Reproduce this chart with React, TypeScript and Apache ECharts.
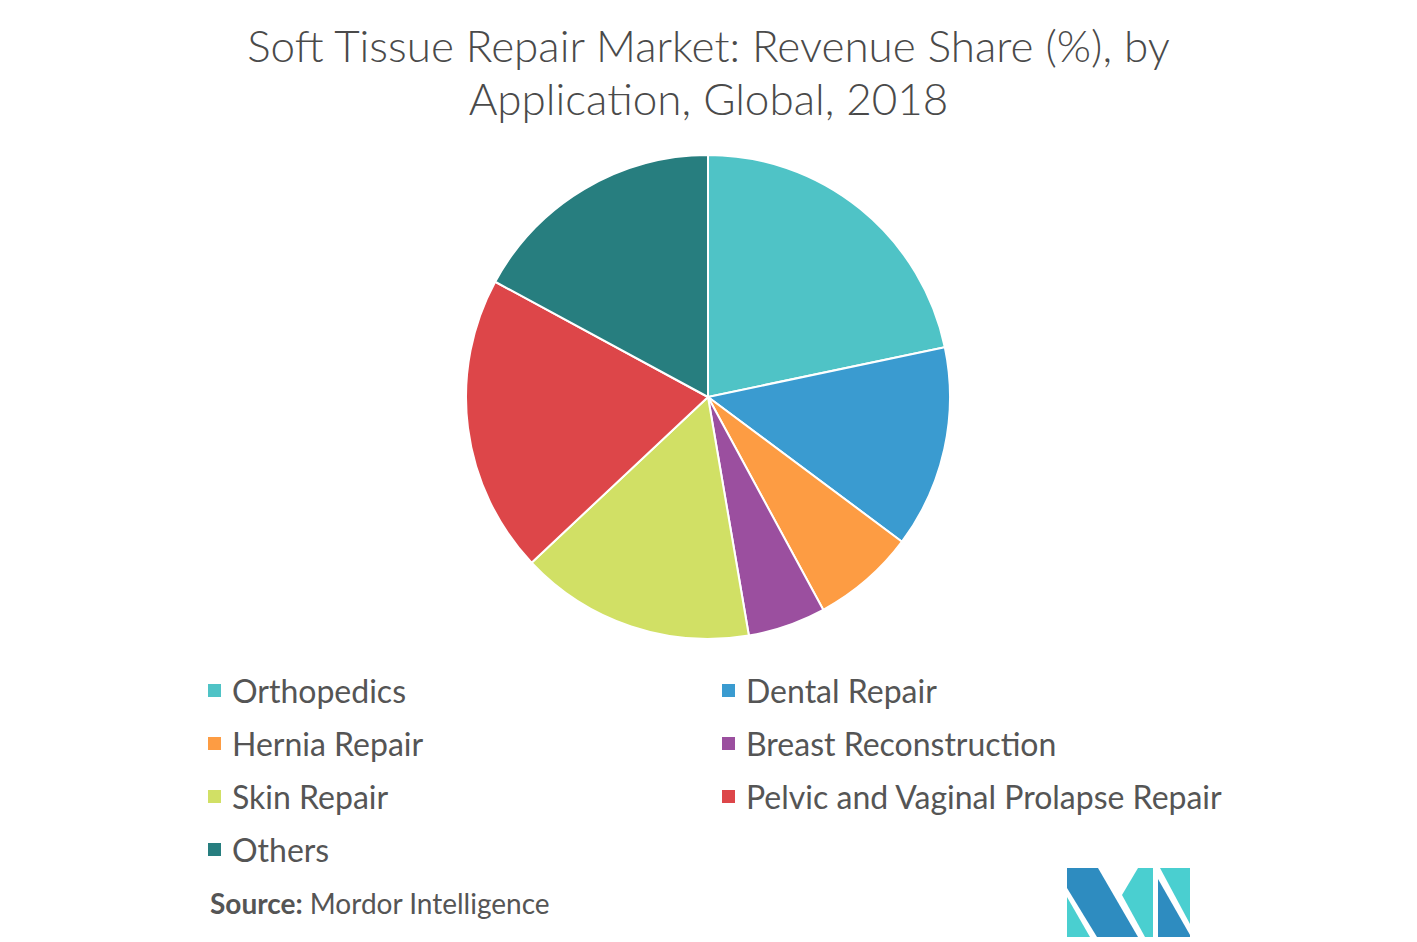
import React, { useEffect, useRef } from "react";
import * as echarts from "echarts";

const categories = [
  "Orthopedics",
  "Dental Repair",
  "Hernia Repair",
  "Breast Reconstruction",
  "Skin Repair",
  "Pelvic and Vaginal Prolapse Repair",
  "Others",
];
const shares = [21.7, 13.5, 6.9, 5.2, 15.7, 19.9, 17.1];
const colors = ["#4fc3c6", "#3a9bd0", "#fd9c43", "#9b4f9f", "#d1e065", "#dd4649", "#277e7f"];
const leftLegend = ["Orthopedics", "Hernia Repair", "Skin Repair", "Others"];
const rightLegend = ["Dental Repair", "Breast Reconstruction", "Pelvic and Vaginal Prolapse Repair"];
const titleText = "Soft Tissue Repair Market: Revenue Share (%), by\nApplication, Global, 2018";

const FONT = "Lato, 'Open Sans', sans-serif";

export default function App() {
  const ref = useRef<HTMLDivElement>(null);
  useEffect(() => {
    if (!ref.current) return;
    const chart = echarts.init(ref.current, null, { renderer: "svg" });
    const legendBase = {
      orient: "vertical",
      icon: "rect",
      itemWidth: 15,
      itemHeight: 15,
      itemGap: 20,
      selectedMode: false,
      textStyle: { fontFamily: FONT, fontSize: 32, color: "#555555", lineHeight: 33, padding: [0, 0, 0, 5] },
    };
    chart.setOption({
      animation: false,
      backgroundColor: "#ffffff",
      color: colors,
      title: {
        text: titleText,
        left: "center",
        top: 13,
        textStyle: { fontFamily: FONT, fontSize: 44, fontWeight: 300, color: "#4a4a4a", lineHeight: 53 },
      },
      legend: [
        { ...legendBase, left: 201, top: 669, data: leftLegend },
        { ...legendBase, left: 715, top: 669, data: rightLegend },
      ],
      series: [
        {
          type: "pie",
          center: [708, 397],
          radius: [0, 242],
          startAngle: 90,
          clockwise: true,
          label: { show: false },
          labelLine: { show: false },
          emphasis: { disabled: true },
          itemStyle: { borderColor: "#ffffff", borderWidth: 2 },
          data: categories.map((c, i) => ({ name: c, value: shares[i] })),
        },
      ],
      graphic: [
        {
          type: "text",
          left: 210,
          top: 889,
          style: {
            text: "{b|Source:} Mordor Intelligence",
            rich: {
              b: { fontFamily: FONT, fontSize: 28, fontWeight: "bold", fill: "#555555" },
            },
            fontFamily: FONT,
            fontSize: 28,
            fill: "#555555",
          },
        },
        {
          type: "group",
          children: [
            { type: "polygon", shape: { points: [[1067, 868], [1098, 868], [1138, 937], [1097, 937], [1067, 888]] }, style: { fill: "#2e8cc0" } },
            { type: "polygon", shape: { points: [[1067, 897], [1090, 937], [1067, 937]] }, style: { fill: "#4acfd0" } },
            { type: "polygon", shape: { points: [[1122, 895], [1138, 868], [1153, 868], [1153, 937], [1145, 937]] }, style: { fill: "#4acfd0" } },
            { type: "polygon", shape: { points: [[1160, 868], [1190, 868], [1190, 924]] }, style: { fill: "#4acfd0" } },
            { type: "polygon", shape: { points: [[1158, 879], [1190, 935], [1190, 937], [1158, 937]] }, style: { fill: "#2e8cc0" } },
          ],
        },
      ],
    });
    return () => chart.dispose();
  }, []);
  return <div ref={ref} style={{ position: "fixed", left: 0, top: 0, width: 1417, height: 942 }} />;
}
